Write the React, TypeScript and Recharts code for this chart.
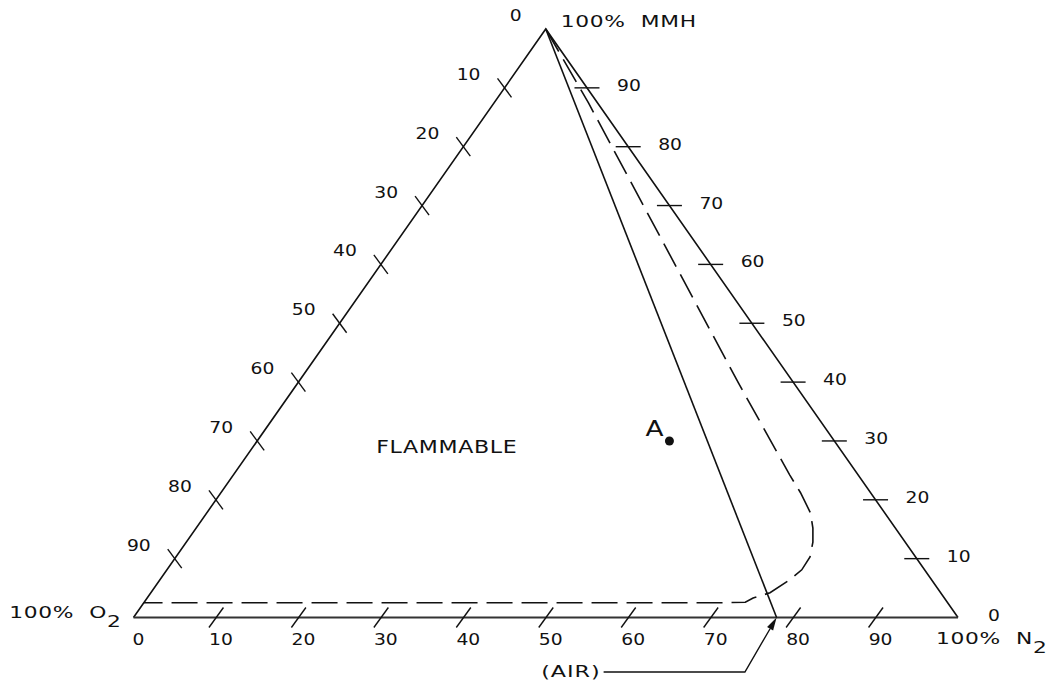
import { ComposedChart, Scatter, XAxis, YAxis } from "recharts";

// scale values printed along each edge
const o2Scale = [0, 10, 20, 30, 40, 50, 60, 70, 80, 90]; // left edge, 0 at the MMH corner
const mmhScale = [0, 10, 20, 30, 40, 50, 60, 70, 80, 90]; // right edge, 0 at the N2 corner
const n2Scale = [0, 10, 20, 30, 40, 50, 60, 70, 80, 90]; // bottom edge, 0 at the O2 corner

// compositions as [MMH %, N2 %]; O2 is the rest
const cornerO2: [number, number] = [0, 0];
const cornerMMH: [number, number] = [100, 0];
const cornerN2: [number, number] = [0, 100];
const airLine: [number, number][] = [
  [100, 0],
  [0, 78],
];
const limitLine: [number, number][] = [
  [100, 0],
  [87.4, 11.5],
  [39.9, 53.4],
  [24.2, 67.5],
  [21.2, 70.3],
  [17.8, 73.2],
  [15.2, 74.8],
  [12.8, 76.0],
  [10.3, 76.9],
  [8.1, 77.0],
  [6.4, 76.4],
  [4.2, 75.1],
  [3.3, 73.5],
  [2.6, 72.9],
  [2.5, 69.9],
  [2.5, 0],
];
const pointA: [number, number] = [30, 50];
const flammableAt: [number, number] = [28, 24];

const toXY = ([mmh, n2]: [number, number]) => ({ x: n2 + mmh / 2, y: mmh });

const INK = "#111";
const FONT = "'DejaVu Sans', sans-serif";

// plotter-style lettering: DejaVu stretched sideways
const Txt = ({ x, y, anchor = "start", size = 15, sx = 1.25, ls = 0, children }: any) => (
  <text
    transform={`translate(${x},${y}) scale(${sx},1)`}
    textAnchor={anchor}
    fontSize={size}
    letterSpacing={ls}
    fontFamily={FONT}
    fill={INK}
    style={{ whiteSpace: "pre" }}
  >
    {children}
  </text>
);

const noDot = () => <g />;

const LeftTick = ({ cx, cy, payload }: any) => (
  <g>
    {payload.v > 0 && <line x1={cx - 7} y1={cy - 9.5} x2={cx + 7} y2={cy + 9.5} stroke={INK} strokeWidth={1.4} />}
    <Txt x={cx - 24} y={cy - 8} anchor="end">
      {payload.v}
    </Txt>
  </g>
);

const RightTick = ({ cx, cy, payload }: any) => (
  <g>
    {payload.v > 0 && <line x1={cx - 12.5} y1={cy} x2={cx + 12.5} y2={cy} stroke={INK} strokeWidth={1.4} />}
    <Txt x={cx + 30} y={cy + 3}>
      {payload.v}
    </Txt>
  </g>
);

const BottomTick = ({ cx, cy, payload }: any) => (
  <g>
    {payload.v > 0 && <line x1={cx - 7} y1={cy + 10} x2={cx + 7.5} y2={cy - 10} stroke={INK} strokeWidth={1.4} />}
    <Txt x={cx + 5} y={cy + 27.5} anchor="middle">
      {payload.v}
    </Txt>
  </g>
);

const PointA = ({ cx, cy }: any) => (
  <g>
    <circle cx={cx} cy={cy} r={4.5} fill={INK} />
    <Txt x={cx - 15} y={cy - 5} anchor="middle" size={22} sx={1.2}>
      A
    </Txt>
  </g>
);

const AirNote = ({ cx, cy }: any) => {
  const bx = cx - 31.7;
  const by = cy + 54.5;
  const len = Math.hypot(cx - bx, cy - by);
  const ux = (cx - bx) / len;
  const uy = (cy - by) / len;
  const hx = cx - ux * 13;
  const hy = cy - uy * 13;
  return (
    <g>
      <polyline points={`${cx - 173},${by} ${bx},${by} ${hx},${hy}`} fill="none" stroke={INK} strokeWidth={1.4} />
      <polygon points={`${cx},${cy} ${hx - uy * 3.5},${hy + ux * 3.5} ${hx + uy * 3.5},${hy - ux * 3.5}`} fill={INK} />
      <Txt x={cx - 176} y={cy + 59.5} anchor="end" size={16.5} sx={1.35} ls={0.7}>
        (AIR)
      </Txt>
    </g>
  );
};

const MMHLabel = ({ cx, cy }: any) => (
  <Txt x={cx + 15} y={cy - 2} size={16.5} sx={1.32} ls={0.5}>
    {"100%  MMH"}
  </Txt>
);

const O2Label = ({ cx, cy }: any) => (
  <Txt x={cx - 12} y={cy} anchor="end" size={16.5} sx={1.32} ls={0.5}>
    {"100%  O"}
    <tspan dy={9}>2</tspan>
  </Txt>
);

const N2Label = ({ cx, cy }: any) => (
  <Txt x={cx - 22} y={cy + 26.5} size={16.5} sx={1.32} ls={0.5}>
    {"100%  N"}
    <tspan dy={9}>2</tspan>
  </Txt>
);

const FlammableLabel = ({ cx, cy }: any) => (
  <Txt x={cx} y={cy} anchor="middle" size={17} sx={1.3} ls={0.5}>
    FLAMMABLE
  </Txt>
);

const App = () => {
  const sides = [cornerO2, cornerMMH, cornerN2].map(toXY);
  const bottom = [cornerO2, cornerN2].map(toXY);
  const air = airLine.map(toXY);
  const limit = limitLine.map(toXY);
  const leftTicks = o2Scale.map((v) => ({ ...toXY([100 - v, 0]), v }));
  const rightTicks = mmhScale.map((v) => ({ ...toXY([v, 100 - v]), v }));
  const bottomTicks = n2Scale.map((v) => ({ ...toXY([0, v]), v }));

  return (
    <div style={{ position: "absolute", left: 0, top: 0, background: "#fff" }}>
      <ComposedChart
        width={1049}
        height={681}
        margin={{ top: 29, right: 91, bottom: 63.5, left: 133.5 }}
      >
        <XAxis type="number" dataKey="x" domain={[0, 100]} hide />
        <YAxis type="number" dataKey="y" domain={[0, 100]} hide />
        <Scatter data={sides} shape={noDot} line={{ stroke: INK, strokeWidth: 1.6 }} lineType="joint" isAnimationActive={false} />
        <Scatter data={bottom} shape={noDot} line={{ stroke: "#333", strokeWidth: 2.2 }} lineType="joint" isAnimationActive={false} />
        <Scatter data={air} shape={noDot} line={{ stroke: INK, strokeWidth: 1.6 }} lineType="joint" isAnimationActive={false} />
        <Scatter
          data={limit}
          shape={noDot}
          line={{ stroke: INK, strokeWidth: 1.6, strokeDasharray: "26 9" }}
          lineType="joint"
          isAnimationActive={false}
        />
        <Scatter data={leftTicks} shape={LeftTick} isAnimationActive={false} />
        <Scatter data={rightTicks} shape={RightTick} isAnimationActive={false} />
        <Scatter data={bottomTicks} shape={BottomTick} isAnimationActive={false} />
        <Scatter data={[toXY(pointA)]} shape={PointA} isAnimationActive={false} />
        <Scatter data={[toXY(airLine[1])]} shape={AirNote} isAnimationActive={false} />
        <Scatter data={[toXY(cornerMMH)]} shape={MMHLabel} isAnimationActive={false} />
        <Scatter data={[toXY(cornerO2)]} shape={O2Label} isAnimationActive={false} />
        <Scatter data={[toXY(cornerN2)]} shape={N2Label} isAnimationActive={false} />
        <Scatter data={[toXY(flammableAt)]} shape={FlammableLabel} isAnimationActive={false} />
      </ComposedChart>
    </div>
  );
};

export default App;
